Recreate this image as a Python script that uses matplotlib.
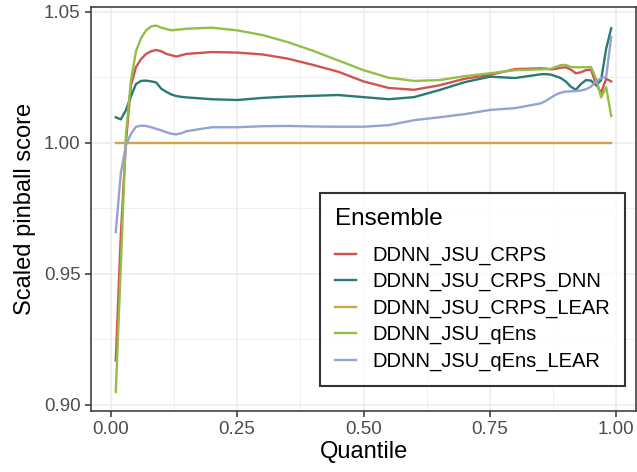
import matplotlib
matplotlib.use("Agg")
import matplotlib.pyplot as plt
from matplotlib.ticker import MultipleLocator

plt.rcParams["font.family"] = ["Liberation Sans", "DejaVu Sans"]

# quantile grid the values were read on
quantiles = [0.01, 0.02, 0.03, 0.04, 0.05, 0.06, 0.07, 0.08, 0.09, 0.10,
             0.11, 0.12, 0.13, 0.14, 0.15, 0.20, 0.25, 0.30, 0.35, 0.40,
             0.45, 0.50, 0.55, 0.60, 0.65, 0.70, 0.75, 0.80, 0.85, 0.86,
             0.87, 0.88, 0.89, 0.90, 0.91, 0.92, 0.93, 0.94, 0.95, 0.96,
             0.97, 0.98, 0.99]

crps = [0.917, 0.965, 1.000, 1.022, 1.029, 1.032, 1.034, 1.035, 1.0355, 1.035,
        1.034, 1.0335, 1.033, 1.0335, 1.034, 1.0347, 1.0345, 1.0338, 1.0322, 1.0298,
        1.0272, 1.0235, 1.021, 1.0203, 1.022, 1.0245, 1.026, 1.0282, 1.0285, 1.0284,
        1.0281, 1.0283, 1.0287, 1.0289, 1.028, 1.0266, 1.027, 1.0278, 1.028, 1.0225,
        1.0192, 1.0245, 1.0235]

crps_dnn = [1.0098, 1.009, 1.0125, 1.0178, 1.0225, 1.0237, 1.0238, 1.0235, 1.0231, 1.0207,
            1.0195, 1.0185, 1.0179, 1.0176, 1.0174, 1.0167, 1.0164, 1.0172, 1.0177, 1.018,
            1.0183, 1.0175, 1.0167, 1.0175, 1.0202, 1.0232, 1.0253, 1.0248, 1.0262, 1.0263,
            1.0261, 1.0255, 1.0248, 1.0235, 1.0215, 1.0203, 1.0225, 1.024, 1.0238, 1.022,
            1.024, 1.036, 1.0438]

crps_lear = [1.0] * len(quantiles)

qens = [0.905, 0.953, 1.003, 1.024, 1.035, 1.040, 1.043, 1.0445, 1.0448, 1.044,
        1.0435, 1.043, 1.0432, 1.0434, 1.0436, 1.044, 1.043, 1.0412, 1.0385, 1.0352,
        1.0315, 1.0278, 1.0249, 1.0237, 1.024, 1.0255, 1.0266, 1.0278, 1.0281, 1.0282,
        1.0283, 1.029, 1.0297, 1.0298, 1.029, 1.0289, 1.0289, 1.0289, 1.029, 1.0245,
        1.0174, 1.0213, 1.0103]

qens_lear = [0.966, 0.9885, 0.999, 1.0035, 1.0062, 1.0066, 1.0065, 1.006, 1.0054, 1.0048,
             1.0041, 1.0035, 1.0033, 1.0037, 1.0045, 1.006, 1.006, 1.0064, 1.0065, 1.0063,
             1.0062, 1.0062, 1.0068, 1.0087, 1.0098, 1.011, 1.0126, 1.0133, 1.0151, 1.016,
             1.0172, 1.0184, 1.0192, 1.0196, 1.0197, 1.0198, 1.02, 1.0205, 1.0215, 1.0235,
             1.0247, 1.0253, 1.0405]

series = [
    ("DDNN_JSU_CRPS", crps, "#d05252"),
    ("DDNN_JSU_CRPS_DNN", crps_dnn, "#2a7a73"),
    ("DDNN_JSU_CRPS_LEAR", crps_lear, "#d4a24b"),
    ("DDNN_JSU_qEns", qens, "#95be48"),
    ("DDNN_JSU_qEns_LEAR", qens_lear, "#95a3ce"),
]

fig = plt.figure(figsize=(6.37, 4.72), dpi=100)
ax = fig.add_axes([91 / 637, 1 - 411 / 472, 545 / 637, 404 / 472])

for name, vals, col in series:
    ax.plot(quantiles, vals, color=col, linewidth=1.7, label=name)

ax.set_xlim(-0.039, 1.039)
ax.set_ylim(0.8977, 1.0519)
ax.xaxis.set_major_locator(MultipleLocator(0.25))
ax.xaxis.set_minor_locator(MultipleLocator(0.125))
ax.yaxis.set_major_locator(MultipleLocator(0.05))
ax.yaxis.set_minor_locator(MultipleLocator(0.025))
ax.xaxis.set_major_formatter(plt.FuncFormatter(lambda v, p: f"{v:.2f}"))
ax.yaxis.set_major_formatter(plt.FuncFormatter(lambda v, p: f"{v:.2f}"))

# ggplot theme_bw look
ax.grid(True, which="major", color="#ebebeb", linewidth=1.1)
ax.grid(True, which="minor", color="#ebebeb", linewidth=0.55)
ax.set_axisbelow(True)
for sp in ax.spines.values():
    sp.set_color("#333333")
    sp.set_linewidth(1.1)
ax.tick_params(which="major", length=4.5, width=1.1, color="#333333",
               labelsize=13.5, labelcolor="#4d4d4d", pad=3)
ax.tick_params(which="minor", length=0)

ax.set_xlabel("Quantile", fontsize=17, labelpad=2)
ax.set_ylabel("Scaled pinball score", fontsize=17, labelpad=6)

leg = ax.legend(title="Ensemble", loc="lower right", bbox_to_anchor=(0.98, 0.062),
                borderaxespad=0, frameon=True, fancybox=False, fontsize=14.5,
                title_fontsize=17.5, handlelength=1.05, handletextpad=0.8,
                labelspacing=0.36, borderpad=0.75, alignment="left")
leg.get_frame().set_edgecolor("black")
leg.get_frame().set_linewidth(1.5)
# more room between the legend title and the entries
leg._legend_box.sep = 11.5

fig.savefig("out.png", dpi=100)
